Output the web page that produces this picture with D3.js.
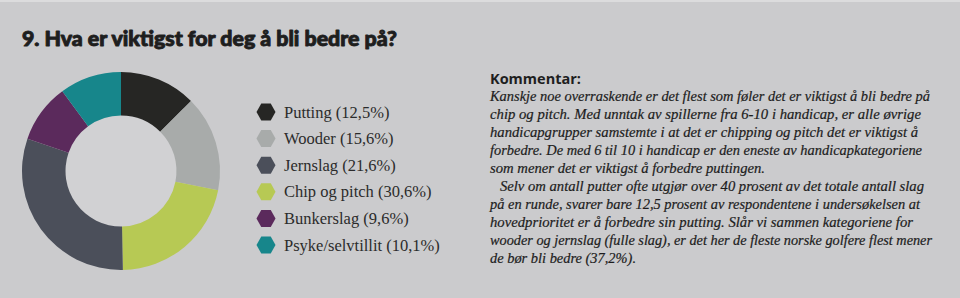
<!DOCTYPE html>
<html><head><meta charset="utf-8">
<script src="https://cdn.jsdelivr.net/npm/d3@7"></script>
<style>
html,body{margin:0;padding:0;background:#cbcbcd;}
svg{display:block;}
</style></head>
<body>
<script>
// ---- data ----
const title = "9. Hva er viktigst for deg å bli bedre på?";
const categories = ["Putting", "Wooder", "Jernslag", "Chip og pitch", "Bunkerslag", "Psyke/selvtillit"];
const labels = ["12,5%", "15,6%", "21,6%", "30,6%", "9,6%", "10,1%"];
const values = [12.5, 15.6, 21.6, 30.6, 9.6, 10.1];
const colors = ["#262624", "#a8abaa", "#4b4f5a", "#b7c954", "#5b2a5c", "#17868b"];
// order and colour of the slices as drawn in the donut (clockwise from 12 o'clock)
const sliceValues = [12.5, 15.6, 21.6, 30.6, 9.6, 10.1];
const sliceColors = ["#262624", "#a8abaa", "#b7c954", "#4b4f5a", "#5b2a5c", "#17868b"];
const commentTitle = "Kommentar:";
const commentLines = [
  "Kanskje noe overraskende er det flest som føler det er viktigst å bli bedre på",
  "chip og pitch. Med unntak av spillerne fra 6-10 i handicap, er alle øvrige",
  "handicapgrupper samstemte i at det er chipping og pitch det er viktigst å",
  "forbedre. De med 6 til 10 i handicap er den eneste av handicapkategoriene",
  "som mener det er viktigst å forbedre puttingen.",
  "   Selv om antall putter ofte utgjør over 40 prosent av det totale antall slag",
  "på en runde, svarer bare 12,5 prosent av respondentene i undersøkelsen at",
  "hovedprioritet er å forbedre sin putting. Slår vi sammen kategoriene for",
  "wooder og jernslag (fulle slag), er det her de fleste norske golfere flest mener",
  "de bør bli bedre (37,2%)."
];
const lineWidths = [440, 431, 428, 432, 275, 424, 430, 423, 442, 146];

// ---- drawing ----
const W = 960, H = 298;
const svg = d3.select("body").append("svg").attr("width", W).attr("height", H);
svg.append("rect").attr("width", W).attr("height", H).attr("fill", "#cbcbcd");
svg.append("rect").attr("width", W).attr("height", 2).attr("fill", "#dcdcdd");

svg.append("text").attr("x", 22).attr("y", 46)
  .attr("font-family", "Lato, Inter, 'Open Sans', sans-serif").attr("font-weight", 900)
  .attr("font-size", 20).attr("fill", "#1e1e1e")
  .attr("stroke", "#1e1e1e").attr("stroke-width", 0.9).attr("stroke-linejoin", "round")
  .attr("textLength", 375)
  .attr("lengthAdjust", "spacingAndGlyphs").text(title);

// donut
const cx = 121, cy = 171, rOuter = 99, rInner = 55.5;
const pie = d3.pie().sort(null).value(d => d);
const arc = d3.arc().innerRadius(rInner).outerRadius(rOuter);
const g = svg.append("g").attr("transform", `translate(${cx},${cy})`);
g.append("circle").attr("r", rInner).attr("fill", "#d1d1d3");
g.selectAll("path").data(pie(sliceValues)).join("path")
  .attr("d", arc).attr("fill", (d, i) => sliceColors[i]);

// legend
const ly = d3.scalePoint().domain(categories).range([112, 245]);
const hex = (w, h) => {
  const a = w / 2, b = h / 2, q = w / 4;
  return `M${-a},0L${-q},${-b}L${q},${-b}L${a},0L${q},${b}L${-q},${b}Z`;
};
const leg = svg.append("g").selectAll("g").data(categories).join("g")
  .attr("transform", d => `translate(266,${ly(d)})`);
leg.append("path").attr("d", hex(19, 17)).attr("fill", (d, i) => colors[i]);
leg.append("text").attr("x", 18).attr("y", 5.5)
  .attr("font-family", "'Liberation Serif', 'DejaVu Serif', serif")
  .attr("font-size", 16.5).attr("fill", "#2b2b2b")
  .text((d, i) => `${d} (${labels[i]})`);

// comment
svg.append("text").attr("x", 490).attr("y", 84)
  .attr("font-family", "'Open Sans', sans-serif").attr("font-weight", 700)
  .attr("font-size", 14).attr("fill", "#1e1e1e").attr("textLength", 91)
  .attr("lengthAdjust", "spacingAndGlyphs").text(commentTitle);

const ty = d3.scaleLinear().domain([0, commentLines.length - 1]).range([101, 263]);
svg.append("g").selectAll("text").data(commentLines).join("text")
  .attr("x", (d, i) => i === 5 ? 500 : 490)
  .attr("y", (d, i) => ty(i))
  .attr("font-family", "'Liberation Serif', 'DejaVu Serif', serif")
  .attr("font-style", "italic").attr("font-size", 15).attr("fill", "#1c1c1c")
  .attr("stroke", "#1c1c1c").attr("stroke-width", 0.2)
  .attr("textLength", (d, i) => lineWidths[i]).attr("lengthAdjust", "spacingAndGlyphs")
  .text(d => d.trim());
</script>
</body></html>
